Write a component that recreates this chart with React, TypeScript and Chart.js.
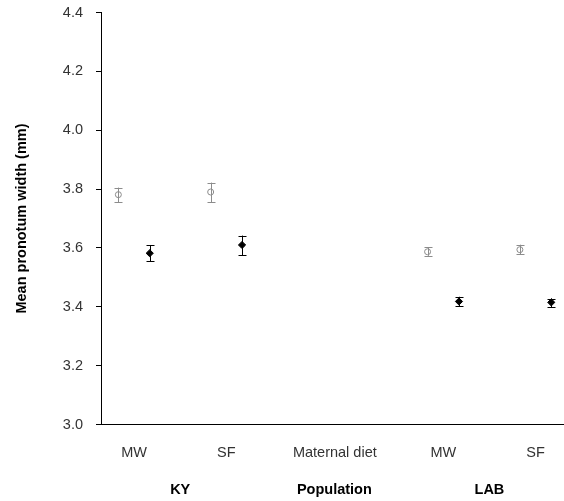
import React, { useEffect, useRef } from "react";
import { Chart, registerables } from "chart.js";

Chart.register(...registerables);

// Category labels (first row) and their positions on the x axis
const categoryLabels = ["MW", "SF", "Maternal diet", "MW", "SF"];
const categoryPositions = [1, 2, 3.175, 4.35, 5.35];
// Group labels (second row, bold)
const groupLabels = ["KY", "Population", "LAB"];
const groupPositions = [1.5, 3.17, 4.85];

// Positions of the data groups (KY MW, KY SF, LAB MW, LAB SF)
const dataPositions = [1, 2, 4.35, 5.35];
const pairOffset = 0.17;

// Open grey series
const openMeans = [3.781, 3.79, 3.587, 3.594];
const openLow = [3.755, 3.755, 3.573, 3.579];
const openHigh = [3.805, 3.822, 3.602, 3.611];

// Filled black series
const filledMeans = [3.582, 3.61, 3.418, 3.415];
const filledLow = [3.555, 3.576, 3.402, 3.399];
const filledHigh = [3.61, 3.642, 3.434, 3.428];

const yMin = 3.0;
const yMax = 4.4;
const yStep = 0.2;
const xMin = 0.642;
const xMax = 5.658;

const yTitle = "Mean pronotum width (mm)";

const FONT = "'Liberation Sans', Arial, sans-serif";

const errorBarPlugin = {
  id: "errorBars",
  afterDatasetsDraw(chart: any) {
    const ctx = chart.ctx;
    const yScale = chart.scales.y;
    chart.data.datasets.forEach((ds: any, i: number) => {
      const meta = chart.getDatasetMeta(i);
      if (!ds.errLow) return;
      ctx.save();
      ctx.strokeStyle = ds.errColor;
      ctx.lineWidth = 1;
      meta.data.forEach((pt: any, j: number) => {
        const x = Math.round(pt.x) + 0.5;
        const yl = yScale.getPixelForValue(ds.errLow[j]);
        const yh = yScale.getPixelForValue(ds.errHigh[j]);
        const cap = 4;
        ctx.beginPath();
        ctx.moveTo(x, yl);
        ctx.lineTo(x, yh);
        ctx.moveTo(x - cap, Math.round(yl) + 0.5);
        ctx.lineTo(x + cap, Math.round(yl) + 0.5);
        ctx.moveTo(x - cap, Math.round(yh) + 0.5);
        ctx.lineTo(x + cap, Math.round(yh) + 0.5);
        ctx.stroke();
      });
      ctx.restore();
    });
  },
};

const zeroPad = (scale: any) => {
  scale.paddingLeft = 0;
  scale.paddingRight = 0;
  scale.paddingTop = 0;
  scale.paddingBottom = 0;
};

export default function App() {
  const canvasRef = useRef<HTMLCanvasElement | null>(null);

  useEffect(() => {
    if (!canvasRef.current) return;
    const openData = dataPositions.map((p, i) => ({ x: p - pairOffset, y: openMeans[i] }));
    const filledData = dataPositions.map((p, i) => ({ x: p + pairOffset, y: filledMeans[i] }));

    const chart = new Chart(canvasRef.current, {
      type: "scatter",
      data: {
        datasets: [
          {
            label: "open",
            data: openData,
            pointStyle: "circle",
            pointRadius: 3,
            borderColor: "#8c8c8c",
            backgroundColor: "rgba(0,0,0,0)",
            borderWidth: 1,
            errLow: openLow,
            errHigh: openHigh,
            errColor: "#8c8c8c",
          } as any,
          {
            label: "filled",
            data: filledData,
            pointStyle: "rectRot",
            pointRadius: 3.6,
            borderColor: "#000",
            backgroundColor: "#000",
            borderWidth: 1,
            errLow: filledLow,
            errHigh: filledHigh,
            errColor: "#000",
          } as any,
        ],
      },
      options: {
        responsive: false,
        animation: false,
        layout: { autoPadding: false, padding: { top: 12.5, right: 0, left: 0, bottom: 0 } },
        plugins: {
          legend: { display: false },
          tooltip: { enabled: false },
        },
        scales: {
          x: {
            type: "linear",
            position: "bottom",
            min: xMin,
            max: xMax,
            weight: 0,
            grid: { display: true, drawOnChartArea: false, drawTicks: false },
            border: { display: true, color: "#000", width: 1 },
            afterBuildTicks: (scale: any) => {
              scale.ticks = categoryPositions.map((v) => ({ value: v }));
            },
            afterFit: (scale: any) => {
              scale.height = 45;
              zeroPad(scale);
            },
            ticks: {
              autoSkip: false,
              maxRotation: 0,
              minRotation: 0,
              padding: 20,
              color: "#333",
              font: { family: FONT, size: 14.5 },
              callback: (_v: any, i: number) => categoryLabels[i],
            },
          },
          x2: {
            type: "linear",
            position: "bottom",
            min: xMin,
            max: xMax,
            weight: 1,
            grid: { display: false, drawTicks: false },
            border: { display: false },
            afterBuildTicks: (scale: any) => {
              scale.ticks = groupPositions.map((v) => ({ value: v }));
            },
            afterFit: (scale: any) => {
              scale.height = 31.5;
              zeroPad(scale);
            },
            ticks: {
              autoSkip: false,
              maxRotation: 0,
              minRotation: 0,
              padding: 12,
              color: "#000",
              font: { family: FONT, size: 14.5, weight: "bold" },
              callback: (_v: any, i: number) => groupLabels[i],
            },
          },
          y: {
            type: "linear",
            min: yMin,
            max: yMax,
            afterFit: (scale: any) => {
              scale.width = 101;
              zeroPad(scale);
            },
            grid: {
              display: true,
              drawOnChartArea: false,
              drawTicks: true,
              tickLength: 5,
              color: "#000",
            },
            border: { display: true, color: "#000", width: 1 },
            ticks: {
              stepSize: yStep,
              padding: 13,
              color: "#333",
              font: { family: FONT, size: 14.5 },
              callback: (v: any) => Number(v).toFixed(1),
            },
            title: {
              display: true,
              text: yTitle,
              color: "#000",
              font: { family: FONT, size: 14.5, weight: "bold" },
              padding: { top: 13, bottom: 0 },
            },
          },
        },
      },
      plugins: [errorBarPlugin],
    });
    return () => chart.destroy();
  }, []);

  return (
    <div style={{ position: "absolute", left: 0, top: 0, width: 564, height: 501, background: "#fff" }}>
      <canvas ref={canvasRef} width={564} height={501} style={{ width: 564, height: 501 }} />
    </div>
  );
}
